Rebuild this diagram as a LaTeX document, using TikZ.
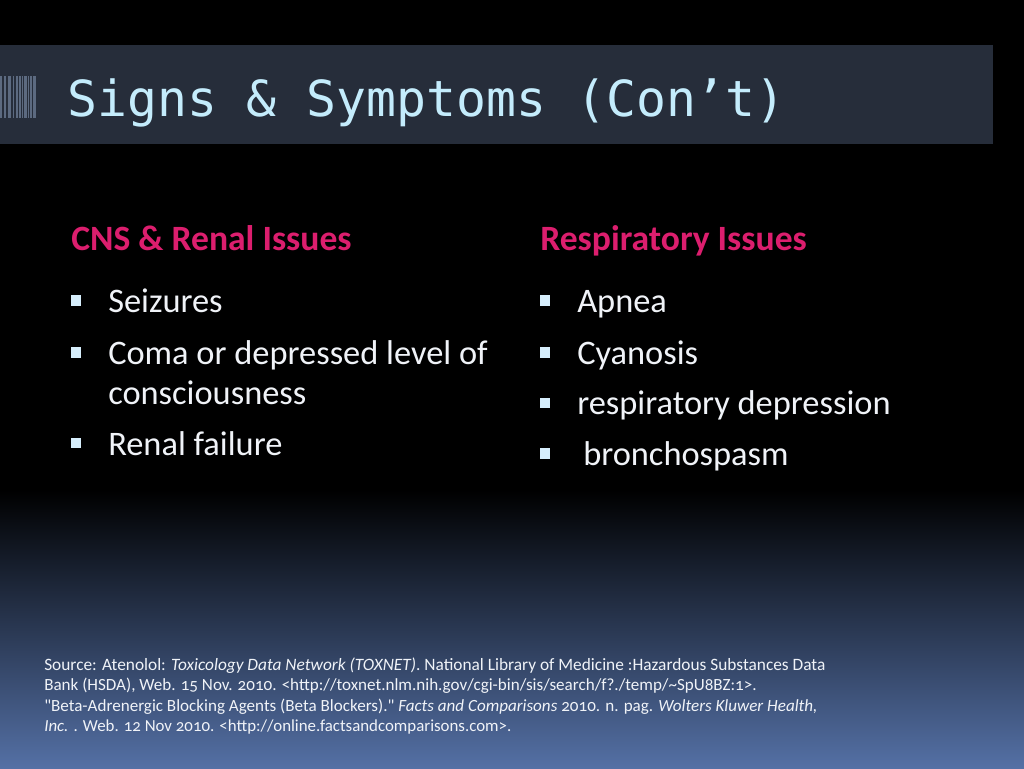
\documentclass[tikz,border=0pt]{standalone}
\usepackage{fontspec}
\setmainfont{Carlito}[Numbers=OldStyle,Ligatures=TeXOff]
\newfontfamily\titlefont{DejaVu Sans Mono}
\definecolor{barcol}{RGB}{38,45,58}
\definecolor{titlecol}{RGB}{196,236,252}
\definecolor{headcol}{RGB}{220,30,110}
\definecolor{bodycol}{RGB}{240,243,248}
\definecolor{bulletcol}{RGB}{214,238,252}
\definecolor{stripecol}{RGB}{92,106,128}
\definecolor{footcol}{RGB}{84,112,165}
\tikzset{
  headtext/.style={anchor=base west,inner sep=0pt,text=headcol,font=\fontsize{26.7}{30}\selectfont\bfseries},
  bodytext/.style={anchor=base west,inner sep=0pt,text=bodycol,font=\fontsize{25.8}{30}\selectfont},
  foottext/.style={anchor=base west,inner sep=0pt,text=bodycol,font=\fontsize{12.8}{15}\selectfont},
  bulletbox/.style={rectangle,fill=bulletcol,inner sep=0pt,minimum size=7.8pt}
}
\begin{document}
\begin{tikzpicture}[x=0.75pt,y=-0.75pt]
  \useasboundingbox (0,0) rectangle (1024,768);
  \fill[black] (0,0) rectangle (1024,768);
  \shade[top color=black,bottom color=footcol] (0,490) rectangle (1024,768);
  % title band
  \fill[barcol] (0,45) rectangle (993,144);
  \foreach \x/\w in {0/2,4/2,8/3,13/1,16/2,19/2,22/1,24/3,28/1,30/2,33/3}
    \fill[stripecol] (\x,76) rectangle ++(\w,42);
  \node[anchor=base west,inner sep=0pt,text=titlecol,font=\titlefont\fontsize{37.3}{44}\selectfont](title)at(67,116){Signs \& Symptoms (Con’t)};
  % left column
  \node[headtext](headl)at(71,250.5){CNS \& Renal Issues};
  \node[bulletbox](bl1)at(76,300.5){};
  \node[bodytext](tl1)at(108,312.5){Seizures};
  \node[bulletbox](bl2)at(76,352.5){};
  \node[bodytext](tl2)at(108,364.5){Coma or depressed level of};
  \node[bodytext](tl3)at(108,404.5){consciousness};
  \node[bulletbox](bl3)at(76,443){};
  \node[bodytext](tl4)at(108,455.5){Renal failure};
  % right column
  \node[headtext](headr)at(540,250.5){Respiratory Issues};
  \node[bulletbox](br1)at(545,300.5){};
  \node[bodytext](tr1)at(577,312.5){Apnea};
  \node[bulletbox](br2)at(545,352.5){};
  \node[bodytext](tr2)at(577,364.5){Cyanosis};
  \node[bulletbox](br3)at(545,403){};
  \node[bodytext](tr3)at(577,414.5){respiratory depression};
  \node[bulletbox](br4)at(545,453.5){};
  \node[bodytext](tr4)at(583,465.5){bronchospasm};
  % source lines
  \node[foottext,font=\fontsize{13}{15}\selectfont](src1)at(44,670){Source: Atenolol: \textit{Toxicology Data Network (TOXNET)}. National Library of Medicine :Hazardous Substances Data};
  \node[foottext](src2)at(44,690){Bank (HSDA), Web. 15 Nov. 2010. <http://toxnet.nlm.nih.gov/cgi-bin/sis/search/f?./temp/\textasciitilde SpU8BZ:1>.};
  \node[foottext](src3)at(44,711){"Beta-Adrenergic Blocking Agents (Beta Blockers)." \textit{Facts and Comparisons} 2010. n. pag. \textit{Wolters Kluwer Health,}};
  \node[foottext,font=\fontsize{12.65}{15}\selectfont](src4)at(44,731){\textit{Inc.} . Web. 12 Nov 2010. <http://online.factsandcomparisons.com>.};
\end{tikzpicture}
\end{document}
